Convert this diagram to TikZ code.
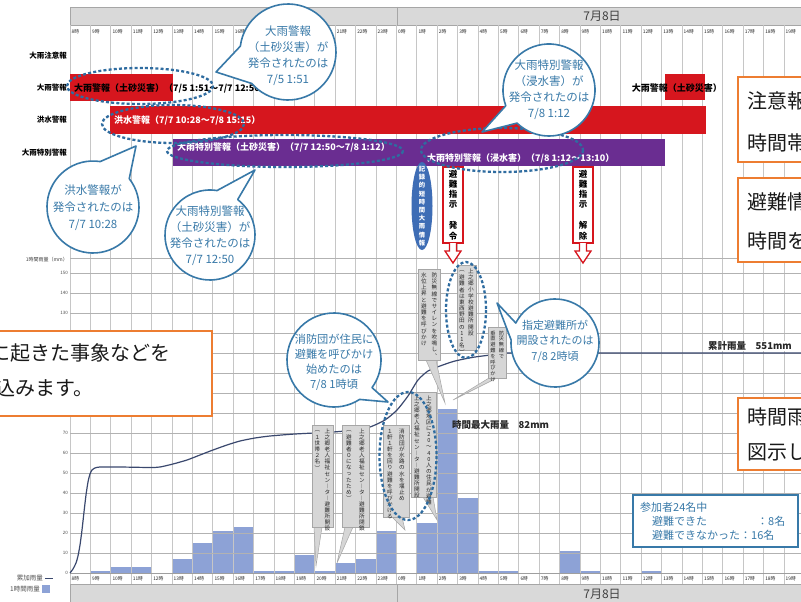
\documentclass[tikz,border=0pt]{standalone}
\usepackage{fontspec}
\setmainfont{Noto Sans CJK JP}
\definecolor{wred}{RGB}{214,22,30}
\definecolor{wpur}{RGB}{106,45,145}
\definecolor{cblue}{RGB}{56,121,168}
\definecolor{dblue}{RGB}{47,108,160}
\definecolor{rbar}{RGB}{141,162,214}
\definecolor{cum}{RGB}{58,72,110}
\definecolor{orng}{RGB}{237,125,49}
\definecolor{bandg}{RGB}{217,217,217}
\definecolor{gbox}{RGB}{214,214,214}
\definecolor{eblue}{RGB}{62,109,181}
\makeatletter
\newcommand\vst[2][1.05em]{\vbox{\offinterlineskip\def\vst@p{#1}\vst@a#2\relax}}
\def\vst@a#1{\ifx\relax#1\else\hbox to 1em{\hss\vbox to \vst@p{\vss\hbox{#1}\vss}\hss}\expandafter\vst@a\fi}
\makeatother
\newcommand\bubble[7]{\filldraw[bub] (#1,#2) ++(#5:#3) arc[start angle=#5, end angle={#4+360}, radius=#3] -- (#6,#7) -- cycle;}
\newcommand\gcallout[8]{\filldraw[gbx] (#5,#4) -- (#7,#8) -- (#6,#4) -- cycle; \filldraw[gbx] (#1,#2) rectangle (#3,#4);}
\newcommand\downarr[1]{\filldraw[fill=white, draw=wred, line width=1.3pt, line join=miter] ({#1-3.5},243) -- ({#1-3.5},251) -- ({#1-8},251) -- (#1,263) -- ({#1+8},251) -- ({#1+3.5},251) -- ({#1+3.5},243);}
\begin{document}
\begin{tikzpicture}[x=1pt,y=-1pt,
 hourlbl/.style={font=\fontsize{4.8}{5}\selectfont, anchor=west, inner sep=0pt, text=black!85},
 axlbl/.style={font=\fontsize{4.5}{5}\selectfont, anchor=east, inner sep=0pt, text=black!70},
 rowlbl/.style={font=\bfseries\fontsize{7.5}{8}\selectfont, anchor=east, inner sep=0pt},
 bartxt/.style={font=\bfseries\fontsize{9}{10}\selectfont, anchor=west, inner sep=0pt},
 bub/.style={fill=white, draw=cblue, line width=1.6pt, line join=round},
 bubtxt/.style={text=cblue, align=center, inner sep=0pt, font=\fontsize{11.5}{16}\selectfont},
 dashell/.style={draw=dblue, line width=2.3pt, dash pattern=on 3pt off 2.2pt},
 gbx/.style={fill=gbox, draw=gray!70, line width=0.5pt},
 vtx/.style={font=\fontsize{5.6}{6}\selectfont, inner sep=0pt, anchor=north, text=black!85},
 redbx/.style={fill=white, draw=wred, line width=1.6pt},
 obox/.style={fill=white, draw=orng, line width=1.8pt},
 otxt/.style={font=\fontsize{20}{22}\selectfont, anchor=west, inner sep=0pt, text=black!90},
 vgrid/.style={draw=gray!45, line width=0.7pt},
 hgrid/.style={draw=gray!60, line width=0.8pt},
 leg/.style={font=\fontsize{6.5}{7}\selectfont, inner sep=0pt, text=black!70},
 bigtxt/.style={font=\bfseries\fontsize{9.5}{10}\selectfont, anchor=west, inner sep=0pt, text=black!85}
]
\useasboundingbox (0,0) rectangle (801,602);
\fill[white] (0,0) rectangle (801,602);
% header band
\filldraw[fill=bandg, draw=gray!70] (70,7) rectangle (810,25);
\draw[gray!70] (397,7) -- (397,25);
\node[font=\fontsize{12}{13}\selectfont, text=black!75, inner sep=0pt] (hd) at (602,16) {7月8日};
% bottom band
\filldraw[fill=bandg, draw=gray!70] (70,584) rectangle (810,610);
\draw[gray!70] (397,584) -- (397,602);
\node[font=\fontsize{12}{13}\selectfont, text=black!75, inner sep=0pt] (bd) at (602,594) {7月8日};
% rain bars
\foreach \i/\val in {1/1,2/3,3/3,5/7,6/15,7/21,8/23,9/1,10/1,11/9,12/1,13/5,14/7,15/21,17/25,18/82,19/37.5,20/1,21/1,24/11,25/1,28/1}
  \fill[rbar] ({70+20.4*\i},573) rectangle ({70+20.4*(\i+1)},{573-2*\val});
% grid
\foreach \i in {0,...,36} \draw[vgrid] ({70+20.4*\i},25) -- ({70+20.4*\i},584);
\foreach \val in {10,20,...,150} \draw[hgrid] (70,{573-2*\val}) -- (801,{573-2*\val});
\draw[hgrid] (70,258) -- (801,258);
\draw[gray!75, line width=1pt] (70,573) -- (801,573);
\foreach \val in {0,10,...,150} \node[axlbl] (ax\val) at (68,{573-2*\val}) {\val};
\node[font=\fontsize{5}{5}\selectfont, inner sep=0pt, anchor=east, text=black!75] (axt) at (68,260) {1時間雨量（mm）};
% hour labels
\foreach \i in {0,...,35}{
  \pgfmathtruncatemacro\hh{mod(\i+8,24)}
  \node[hourlbl] (ht\i) at ({70+20.4*\i+1.5},32) {\hh{}時};
  \node[hourlbl] (hb\i) at ({70+20.4*\i+1.5},579) {\hh{}時};
}
% cumulative line
\draw[cum, line width=1.2pt] plot[smooth, tension=0.4] coordinates {(70,573) (73,569) (76,563) (78,556) (80,545) (82,530) (84,512) (86,495) (88,482) (90,474) (92,470) (95,468) (100,467) (120,467) (150,467.5) (160,467) (173,464) (187,460) (200,455) (213,450) (227,445) (240,441) (255,438) (270,436) (295,434) (333,432) (355,430) (370,427) (385,420) (397,410) (408,396) (418,380) (428,371) (440,366) (455,361) (475,357) (500,354) (520,353) (801,353)};
% legend
\node[leg, anchor=east] (lg1) at (43,578) {累加雨量};
\draw[cum, line width=1pt] (45,578) -- (53,578);
\node[leg, anchor=east] (lg2) at (40,589) {1時間雨量};
\fill[rbar] (42,585) rectangle (50,593);
% row labels
\node[rowlbl] (r1) at (67,56) {大雨注意報};
\node[rowlbl] (r2) at (67,88) {大雨警報};
\node[rowlbl] (r3) at (67,120) {洪水警報};
\node[rowlbl] (r4) at (67,153) {大雨特別警報};
% warning bars
\fill[wred] (70,74) rectangle (173,101);
\fill[wred] (665,74) rectangle (705,100);
\fill[wred] (110,106) rectangle (706,134);
\fill[wpur] (173,139) rectangle (665,166);
\node[bartxt] (t1) at (74,88) {大雨警報（土砂災害）（7/5 1:51〜7/7 12:50）};
\node[bartxt, anchor=east] (t1b) at (722,88) {大雨警報（土砂災害）};
\node[bartxt, text=white] (t2) at (114,120) {洪水警報（7/7 10:28〜7/8 15:15）};
\node[bartxt, text=white] (t3) at (177,147) {大雨特別警報（土砂災害）（7/7 12:50〜7/8 1:12）};
\node[bartxt, text=white] (t4) at (427,158) {大雨特別警報（浸水害）（7/8 1:12〜13:10）};
% blue ellipse
\fill[eblue] (422,206) ellipse[x radius=10.5, y radius=44];
\node[font=\bfseries\fontsize{6.3}{7}\selectfont, text=white, inner sep=0pt] (kiroku) at (422,206) {\vst[8.2pt]{記録的短時間大雨情報}};
% red boxes
\filldraw[redbx] (443,167) rectangle (463,243);
\downarr{453}
\node[font=\bfseries\fontsize{8.5}{9}\selectfont, inner sep=0pt] (hn1) at (453,205) {\vst[10.3pt]{避難指示　発令}};
\filldraw[redbx] (573,167) rectangle (593,243);
\downarr{583}
\node[font=\bfseries\fontsize{8.5}{9}\selectfont, inner sep=0pt] (hn2) at (583,205) {\vst[10.3pt]{避難指示　解除}};
% gray callouts
\gcallout{418}{269}{440}{360}{426}{436}{445}{403}
\node[vtx] (ga1) at (434.5,272) {\vst[6.2pt]{防災無線でサイレンを吹鳴し︑}};
\node[vtx] (ga2) at (424,272) {\vst[6.2pt]{水位上昇と避難を呼びかけ}};
\filldraw[gbx] (457,265) rectangle (476,350);
\node[vtx] (gb1) at (471,268) {\vst[6.2pt]{上之郷小学校避難所開設}};
\node[vtx] (gb2) at (462,268) {\vst[6.2pt]{︵避難者は東西野田の11名︶}};
\gcallout{488}{327}{506}{378}{489}{497}{453}{400}
\node[vtx, font=\fontsize{5.2}{5}\selectfont] (gc1) at (501.5,330) {\vst[5.8pt]{防災無線で}};
\node[vtx, font=\fontsize{5.2}{5}\selectfont] (gc2) at (493,330) {\vst[5.8pt]{垂直避難を呼びかけ}};
\gcallout{312}{425}{333}{527}{314}{322}{316}{566}
\node[vtx] (gd1) at (327.5,428) {\vst[6.1pt]{上之郷老人福祉セン︱タ︱避難所開設}};
\node[vtx] (gd2) at (317.5,428) {\vst[6.1pt]{︵１世帯２名︶}};
\gcallout{342}{425}{369}{527}{345}{353}{337}{563}
\node[vtx] (ge1) at (362,428) {\vst[6.1pt]{上之郷老人福祉セン︱タ︱避難所閉鎖}};
\node[vtx] (ge2) at (349,428) {\vst[6.1pt]{︵避難者０になったため︶}};
\gcallout{383}{425}{409}{517}{392}{402}{405}{530}
\node[vtx] (gf1) at (402,428) {\vst[6.1pt]{消防団が水路の水を堰止め}};
\node[vtx] (gf2) at (390,428) {\vst[6.1pt]{１軒１軒を回り避難を呼びかける}};
\gcallout{411}{392}{436}{497}{423}{433}{437}{520}
\node[vtx] (gg1) at (429,395) {\vst[6.1pt]{上之郷地区に20〜40人の住民が避難}};
\node[vtx] (gg2) at (417,395) {\vst[6.1pt]{上之郷老人福祉セン︱タ︱避難所開設}};
% dashed ellipses
\draw[dashell] (140,86) ellipse[x radius=73, y radius=18];
\draw[dashell] (173,124) ellipse[x radius=71, y radius=19];
\draw[dashell] (285,151) ellipse[x radius=118, y radius=16];
\draw[dashell] (502,150) ellipse[x radius=81, y radius=22];
\draw[dashell] (466,310) ellipse[x radius=20, y radius=48];
\draw[dashell] (408,456) ellipse[x radius=28.5, y radius=64];
% bubbles
\bubble{288}{52}{48}{139}{187}{216}{72}
\node[bubtxt] (b1) at (288,56) {大雨警報\\（土砂災害）が\\発令されたのは\\7/5 1:51};
\bubble{93}{207}{46}{279}{322}{136}{146}
\node[bubtxt, font=\fontsize{11.5}{17}\selectfont] (b2) at (93,208) {洪水警報が\\発令されたのは\\7/7 10:28};
\bubble{210}{235}{45}{279}{308}{255}{170}
\node[bubtxt] (b3) at (210,236) {大雨特別警報\\（土砂災害）が\\発令されたのは\\7/7 12:50};
\bubble{549}{90}{46}{134}{160}{482}{132}
\node[bubtxt] (b4) at (549,90) {大雨特別警報\\（浸水害）が\\発令されたのは\\7/8 1:12};
\bubble{334}{360}{47}{36}{57}{388}{402}
\node[bubtxt, font=\fontsize{11.2}{15}\selectfont] (b5) at (334,362) {消防団が住民に\\避難を呼びかけ\\始めたのは\\7/8 1時頃};
\bubble{555}{343}{44}{184}{207}{497}{303}
\node[bubtxt, font=\fontsize{11}{15.5}\selectfont] (b6) at (555,341) {指定避難所が\\開設されたのは\\7/8 2時頃};
% labels
\node[bigtxt] (maxr) at (452,425) {時間最大雨量　82mm};
\node[bigtxt, fill=white, inner sep=1pt] (sumr) at (707,346) {累計雨量　551mm};
% info box
\filldraw[fill=white, draw=cblue, line width=1.3pt] (633,495) rectangle (798,547);
\node[text=cblue, font=\fontsize{11}{12}\selectfont, anchor=west, inner sep=0pt] (i1) at (640,507) {参加者24名中};
\node[text=cblue, font=\fontsize{11}{12}\selectfont, anchor=west, inner sep=0pt] (i2) at (652,521) {避難できた};
\node[text=cblue, font=\fontsize{11}{12}\selectfont, anchor=west, inner sep=0pt] (i3) at (757,521) {：8名};
\node[text=cblue, font=\fontsize{11}{12}\selectfont, anchor=west, inner sep=0pt] (i4) at (652,535) {避難できなかった：16名};
% orange boxes
\filldraw[obox] (738,77) rectangle (812,162);
\node[otxt] (o1a) at (747,101) {注意報};
\node[otxt] (o1b) at (747,143) {時間帯};
\filldraw[obox] (738,178) rectangle (812,262);
\node[otxt] (o2a) at (747,202) {避難情};
\node[otxt] (o2b) at (747,241) {時間を};
\filldraw[obox] (-10,331) rectangle (212,416);
\node[otxt] (o3a) at (-10,353) {に起きた事象などを};
\node[otxt] (o3b) at (-5,388) {込みます。};
\filldraw[obox] (738,398) rectangle (812,470);
\node[otxt] (o4a) at (747,417) {時間雨};
\node[otxt] (o4b) at (747,452) {図示し};
\end{tikzpicture}
\end{document}
